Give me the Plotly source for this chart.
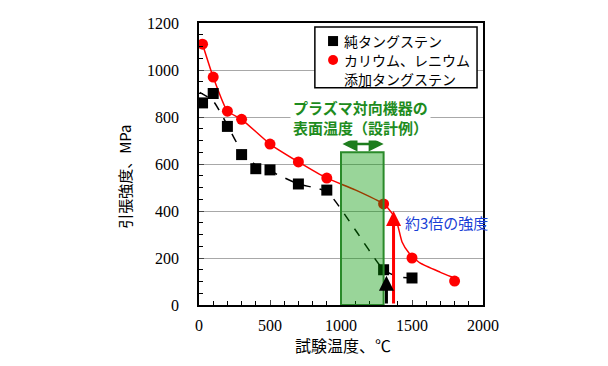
import plotly.graph_objects as go

# ---- data ----
temp_pure = [25, 100, 200, 300, 400, 500, 700, 900, 1300, 1500]
str_pure = [860, 900, 760, 640, 580, 575, 515, 489, 150, 115]

temp_doped = [25, 100, 200, 300, 500, 700, 900, 1300, 1500, 1800]
str_doped = [1110, 970, 825, 790, 685, 609, 540, 430, 200, 102]

# trend curves
trend_pure_x = [5, 100, 200, 300, 400, 500, 700, 900, 1100, 1300, 1400, 1500]
trend_pure_y = [905, 868, 765, 655, 595, 570, 515, 482, 320, 150, 120, 115]
trend_doped_x = [25, 100, 200, 300, 500, 700, 900, 1100, 1300, 1360, 1395, 1430, 1480, 1556, 1697, 1782]
trend_doped_y = [1110, 970, 825, 790, 685, 609, 540, 490, 430, 390, 349, 268, 220, 179, 140, 119]

design_range = [1000, 1300]
design_top = 650
arrow_y = 685
red_arrow_x, red_arrow_top = 1370, 400
black_arrow_x, black_arrow_top = 1320, 125

X_RANGE = [0, 2000]
Y_RANGE = [0, 1200]
x_ticks = [0, 500, 1000, 1500, 2000]
y_ticks = [0, 200, 400, 600, 800, 1000, 1200]

legend_pure = "純タングステン"
legend_doped_l1 = "カリウム、レニウム"
legend_doped_l2 = "添加タングステン"

JP = "Noto Sans CJK JP"
SERIF = "Liberation Serif"

# legend layout (fractions of plot area)
LEG_X0, LEG_X1, LEG_Y0, LEG_Y1 = 0.408, 0.979, 0.770, 0.986
LEG_MX, LEG_TX = 0.472, 0.505
LEG_ROWS = [0.936, 0.869, 0.801]

fig = go.Figure()

# manual legend box (between grid and traces)
fig.add_shape(type="rect", xref="x", yref="y",
              x0=LEG_X0 * X_RANGE[1], x1=LEG_X1 * X_RANGE[1],
              y0=LEG_Y0 * Y_RANGE[1], y1=LEG_Y1 * Y_RANGE[1],
              fillcolor="white", line=dict(color="black", width=1.5), layer="between")

fig.add_trace(go.Scatter(x=trend_pure_x, y=trend_pure_y, mode="lines",
                         line=dict(color="black", width=1.5, dash="dash", shape="spline", smoothing=0.6),
                         showlegend=False, hoverinfo="skip"))
fig.add_trace(go.Scatter(x=trend_doped_x, y=trend_doped_y, mode="lines",
                         line=dict(color="#ff0000", width=1.5, shape="spline", smoothing=0.5),
                         showlegend=False, hoverinfo="skip"))
fig.add_trace(go.Scatter(x=temp_pure, y=str_pure, mode="markers", name=legend_pure,
                         marker=dict(symbol="square", size=11, color="black"), showlegend=False))
fig.add_trace(go.Scatter(x=temp_doped, y=str_doped, mode="markers", name=legend_doped_l1,
                         marker=dict(symbol="circle", size=11, color="#ff0000"), showlegend=False))

# design temperature band
fig.add_shape(type="rect", x0=design_range[0], x1=design_range[1], y0=0, y1=design_top,
              xref="x", yref="y", layer="above",
              fillcolor="rgba(0,150,0,0.4)", line=dict(color="#2a8a2a", width=2))

# arrows
fig.add_annotation(x=design_range[1], y=arrow_y, ax=design_range[0], ay=arrow_y,
                   xref="x", yref="y", axref="x", ayref="y", text="",
                   showarrow=True, arrowhead=2, startarrowhead=2, arrowside="end+start",
                   arrowwidth=2.5, arrowsize=1.2, startarrowsize=1.2, arrowcolor="#1e7d1e")
fig.add_annotation(x=red_arrow_x, y=red_arrow_top, ax=red_arrow_x, ay=0,
                   xref="x", yref="y", axref="x", ayref="y", text="",
                   showarrow=True, arrowhead=2, arrowwidth=3, arrowsize=1, arrowcolor="#ff0000")
fig.add_annotation(x=black_arrow_x, y=black_arrow_top, ax=black_arrow_x, ay=0,
                   xref="x", yref="y", axref="x", ayref="y", text="",
                   showarrow=True, arrowhead=2, arrowwidth=3, arrowsize=1, arrowcolor="black")

# texts
fig.add_annotation(x=1134, y=798, xref="x", yref="y", showarrow=False,
                   text="<b>プラズマ対向機器の<br>表面温度（設計例）</b>",
                   font=dict(family=JP, size=15, color="#1e8c1e"), bgcolor="white",
                   align="left", borderpad=2)
fig.add_annotation(x=1440, y=353, xref="x", yref="y", showarrow=False, xanchor="left",
                   text="約3倍の強度", font=dict(family=JP, size=15, color="#1a3fd6"))

# legend markers and texts
fig.add_trace(go.Scatter(x=[LEG_MX], y=[LEG_ROWS[0]], xaxis="x2", yaxis="y2", mode="markers",
                         marker=dict(symbol="square", size=10, color="black"),
                         showlegend=False, hoverinfo="skip"))
fig.add_trace(go.Scatter(x=[LEG_MX], y=[LEG_ROWS[1]], xaxis="x2", yaxis="y2", mode="markers",
                         marker=dict(symbol="circle", size=10, color="#ff0000"),
                         showlegend=False, hoverinfo="skip"))
for txt, yy in zip([legend_pure, legend_doped_l1, legend_doped_l2], LEG_ROWS):
    fig.add_annotation(x=LEG_TX, y=yy, xref="paper", yref="paper", showarrow=False,
                       xanchor="left", yanchor="middle", text=txt,
                       font=dict(family=JP, size=14, color="black"))

# axis titles
fig.add_annotation(x=-0.261, y=0.454, xref="paper", yref="paper", showarrow=False,
                   text="引張強度、MPa", textangle=-90, xanchor="center", yanchor="middle",
                   font=dict(family=JP, size=15, color="black"))
fig.add_annotation(x=0.507, y=-0.142, xref="paper", yref="paper", showarrow=False,
                   text="試験温度、℃", xanchor="center", yanchor="middle",
                   font=dict(family=JP, size=16, color="black"))

fig.update_layout(
    width=600, height=358,
    margin=dict(l=191, r=125, t=15, b=61, autoexpand=False),
    paper_bgcolor="white", plot_bgcolor="white",
    showlegend=False,
    xaxis=dict(range=X_RANGE, tickvals=x_ticks, ticks="inside", ticklen=5,
               minor=dict(dtick=100, ticks="inside", ticklen=4, tickcolor="black"),
               showline=True, linecolor="black", linewidth=1.5, mirror=True,
               showgrid=False, zeroline=False, ticklabelstandoff=5,
               tickfont=dict(family=SERIF, size=16, color="black")),
    yaxis=dict(range=Y_RANGE, tickvals=y_ticks, ticks="inside", ticklen=5,
               minor=dict(dtick=50, ticks="inside", ticklen=4, tickcolor="black", showgrid=False),
               showline=True, linecolor="black", linewidth=1.5, mirror=True,
               showgrid=True, gridcolor="#a8a8a8", gridwidth=1, zeroline=False,
               ticklabelstandoff=15,
               tickfont=dict(family=SERIF, size=16, color="black")),
    xaxis2=dict(range=[0, 1], overlaying="x", visible=False, fixedrange=True),
    yaxis2=dict(range=[0, 1], overlaying="y", visible=False, fixedrange=True),
)

fig.write_html("out.html")
